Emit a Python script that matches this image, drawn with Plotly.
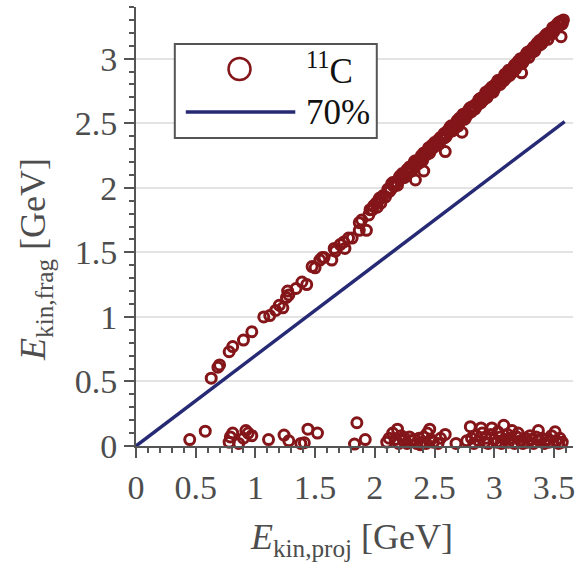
import plotly.graph_objects as go

# Fragment vs. projectile kinetic energy (GeV) for 11C
# Points following the main correlation band
proj_band = [
    0.63, 0.686, 0.70, 0.78, 0.81, 0.90, 0.97,
    1.07, 1.12, 1.17, 1.20, 1.23, 1.26, 1.27, 1.28, 1.34, 1.39, 1.43,
    1.475, 1.50, 1.54, 1.56, 1.575, 1.64, 1.66, 1.67, 1.71, 1.74, 1.75, 1.78, 1.81,
    1.87, 1.87, 1.89, 1.93, 1.95, 1.98, 2.02, 2.03, 2.05, 2.09,
    2.11, 2.13, 2.14, 2.16, 2.17, 2.19, 2.20, 2.22, 2.23, 2.25, 2.26, 2.28,
    2.29, 2.31, 2.32, 2.33, 2.35, 2.36, 2.38, 2.39, 2.40, 2.42, 2.43, 2.45,
    2.46, 2.47, 2.49, 2.50, 2.52, 2.53, 2.54, 2.56, 2.57, 2.58, 2.60, 2.61,
    2.62, 2.64, 2.65, 2.66, 2.68, 2.69, 2.70, 2.72, 2.73, 2.74, 2.76, 2.77,
    2.78, 2.80, 2.81, 2.82, 2.84, 2.85, 2.86, 2.88, 2.89, 2.90, 2.92, 2.93,
    2.94, 2.95, 2.97, 2.98, 2.99, 3.01, 3.02, 3.03, 3.05, 3.06, 3.07, 3.09,
    3.10, 3.11, 3.13, 3.14, 3.15, 3.17, 3.18, 3.19, 3.21, 3.22, 3.23, 3.25,
    3.26, 3.27, 3.29, 3.30, 3.31, 3.33, 3.34, 3.35, 3.37, 3.38, 3.39, 3.41,
    3.42, 3.43, 3.45, 3.46, 3.47, 3.49, 3.50, 3.51, 3.52, 3.54, 3.55, 3.56,
    3.57, 3.58,
    2.34, 2.41, 2.59, 2.73, 3.23, 3.56,
    1.96, 1.99, 2.01, 2.04, 2.07,
    2.12, 2.15, 2.18, 2.21, 2.24, 2.27, 2.30, 2.34, 2.37, 2.41, 2.44, 2.48,
    2.51, 2.55, 2.59, 2.63, 2.67, 2.71, 2.75, 2.79, 2.83, 2.87, 2.91, 2.96,
    3.00, 3.04, 3.08, 3.12, 3.16, 3.20, 3.24, 3.28, 3.32, 3.36, 3.40, 3.44,
    3.48, 3.53, 3.57,
]
frag_band = [
    0.525, 0.61, 0.628, 0.73, 0.77, 0.82, 0.885,
    1.00, 1.01, 1.05, 1.09, 1.07, 1.15, 1.20, 1.17, 1.22, 1.27, 1.25,
    1.39, 1.38, 1.44, 1.46, 1.46, 1.44, 1.53, 1.51, 1.56, 1.58, 1.53, 1.61, 1.61,
    1.73, 1.67, 1.75, 1.67, 1.79, 1.83, 1.85, 1.90, 1.88, 1.93,
    1.99, 1.98, 2.03, 2.01, 2.04, 2.02, 2.07, 2.07, 2.11, 2.08, 2.12, 2.12,
    2.16, 2.13, 2.17, 2.20, 2.18, 2.21, 2.21, 2.25, 2.21, 2.27, 2.26, 2.31,
    2.27, 2.31, 2.31, 2.35, 2.33, 2.37, 2.34, 2.39, 2.38, 2.42, 2.40, 2.44,
    2.43, 2.48, 2.44, 2.48, 2.48, 2.52, 2.48, 2.54, 2.53, 2.57, 2.54, 2.58,
    2.57, 2.62, 2.59, 2.63, 2.61, 2.65, 2.64, 2.69, 2.66, 2.70, 2.70, 2.74,
    2.70, 2.74, 2.74, 2.78, 2.74, 2.80, 2.79, 2.83, 2.80, 2.84, 2.83, 2.88,
    2.85, 2.89, 2.87, 2.91, 2.90, 2.95, 2.92, 2.96, 2.96, 3.00, 2.96, 3.01,
    3.00, 3.04, 3.01, 3.06, 3.05, 3.09, 3.06, 3.10, 3.10, 3.14, 3.11, 3.16,
    3.15, 3.18, 3.15, 3.20, 3.19, 3.24, 3.21, 3.25, 3.24, 3.28, 3.26, 3.29,
    3.28, 3.30,
    2.06, 2.13, 2.28, 2.43, 2.89, 3.17,
    1.83, 1.86, 1.88, 1.92, 1.94,
    1.97, 2.04, 2.04, 2.09, 2.08, 2.14, 2.14, 2.21, 2.19, 2.27, 2.26, 2.33,
    2.33, 2.39, 2.39, 2.47, 2.46, 2.54, 2.53, 2.61, 2.61, 2.68, 2.68, 2.76,
    2.76, 2.83, 2.83, 2.91, 2.90, 2.98, 2.97, 3.05, 3.05, 3.12, 3.12, 3.19,
    3.19, 3.27, 3.27,
]

# Points with almost no fragment energy
proj_low = [
    0.45, 0.58, 0.78, 0.79, 0.81, 0.86, 0.90, 0.92, 0.94, 0.97,
    1.11, 1.24, 1.28, 1.38, 1.41, 1.44, 1.52, 1.83, 1.85, 1.92,
    2.10, 2.12, 2.15, 2.17, 2.19, 2.20, 2.22, 2.24, 2.25, 2.27,
    2.29, 2.31, 2.33, 2.35, 2.37, 2.38, 2.40, 2.41, 2.43, 2.44,
    2.46, 2.47, 2.49, 2.53, 2.55, 2.59, 2.68,
    2.77, 2.80, 2.81, 2.83, 2.85, 2.87, 2.89, 2.90, 2.92, 2.93,
    2.95, 2.97, 2.98, 3.00, 3.02, 3.03, 3.05, 3.06, 3.08, 3.09,
    3.11, 3.12, 3.14, 3.15, 3.17, 3.19, 3.20, 3.22, 3.24, 3.26,
    3.28, 3.30, 3.31, 3.33, 3.35, 3.37, 3.38, 3.40, 3.42, 3.44,
    3.46, 3.48, 3.51, 3.52, 3.54, 3.55, 3.57,
]
frag_low = [
    0.05, 0.115, 0.03, 0.07, 0.10, 0.02, 0.06, 0.12, 0.10, 0.08,
    0.05, 0.085, 0.04, 0.02, 0.025, 0.13, 0.10, 0.015, 0.18, 0.05,
    0.03, 0.06, 0.10, 0.05, 0.13, 0.02, 0.08, 0.04, 0.06, 0.02,
    0.07, 0.04, 0.05, 0.02, 0.06, 0.01, 0.03, 0.07, 0.02, 0.10,
    0.13, 0.05, 0.03, 0.02, 0.06, 0.09, 0.02,
    0.04, 0.15, 0.06, 0.02, 0.08, 0.04, 0.14, 0.10, 0.03, 0.06,
    0.02, 0.09, 0.14, 0.05, 0.03, 0.11, 0.07, 0.02, 0.16, 0.05,
    0.09, 0.03, 0.06, 0.12, 0.02, 0.07, 0.10, 0.04, 0.02, 0.06,
    0.03, 0.08, 0.05, 0.02, 0.07, 0.12, 0.04, 0.06, 0.02, 0.05,
    0.03, 0.08, 0.11, 0.04, 0.02, 0.06, 0.03,
]

# Reference line: fragment keeps 70% of the projectile energy
ratio_fraction = 0.70
ratio_proj = [0.0, 3.59]
ratio_frag = [ratio_fraction * v for v in ratio_proj]

tick_vals = [0, 0.5, 1, 1.5, 2, 2.5, 3, 3.5]
x_tick_text = ["0", "0.5", "1", "1.5", "2", "2.5", "3", "3.5"]
y_tick_vals = [0, 0.5, 1, 1.5, 2, 2.5, 3]
y_tick_text = ["0", "0.5", "1", "1.5", "2", "2.5", "3"]

legend_labels = ["<sup>11</sup>C", "70%"]

RED = "#84161a"
NAVY = "#262a74"
AXIS = "#555555"
TICKTXT = "#4d4d4d"
SERIF = "Liberation Serif"

fig = go.Figure()
fig.add_trace(go.Scatter(
    x=ratio_proj, y=ratio_frag, mode="lines",
    line=dict(color=NAVY, width=3.5), hoverinfo="skip",
))
fig.add_trace(go.Scatter(
    x=proj_band + proj_low, y=frag_band + frag_low, mode="markers",
    marker=dict(symbol="circle-open", size=10, color=RED,
                line=dict(width=3, color=RED)),
    cliponaxis=False,
))

axis_common = dict(
    showline=True, linecolor=AXIS, linewidth=2,
    ticks="outside", ticklen=10, tickwidth=2, tickcolor=AXIS,
    tickfont=dict(family=SERIF, size=34, color=TICKTXT),
    zeroline=False,
    minor=dict(tickmode="linear", tick0=0, dtick=0.1, ticks="outside",
               ticklen=5, tickwidth=1.5, tickcolor=AXIS, showgrid=False),
)

fig.update_layout(
    width=580, height=562,
    margin=dict(l=136, r=5, t=7, b=116),
    paper_bgcolor="white", plot_bgcolor="white",
    showlegend=False,
    xaxis=dict(range=[0, 3.66], tickmode="array", tickvals=tick_vals,
               ticktext=x_tick_text, showgrid=False, **axis_common),
    yaxis=dict(range=[0, 3.4], tickmode="array", tickvals=y_tick_vals,
               ticktext=y_tick_text, showgrid=True, gridcolor="#e3e3e3",
               gridwidth=1.5, **axis_common),
)

# Legend box, drawn by hand so the line sample can be long
lx0, lx1, ly0, ly1 = 0.0888, 0.551, 0.7016, 0.9157
row1_y, row2_y = 0.8588, 0.7608
fig.add_shape(type="rect", xref="paper", yref="paper",
              x0=lx0, x1=lx1, y0=ly0, y1=ly1,
              line=dict(color=AXIS, width=2), fillcolor="white", layer="above")
fig.add_shape(type="circle", xref="paper", yref="paper",
              xsizemode="pixel", ysizemode="pixel",
              xanchor=0.2369, yanchor=row1_y, x0=-11, x1=11, y0=-11, y1=11,
              line=dict(color=RED, width=2.5), layer="above")
fig.add_shape(type="line", xref="paper", yref="paper",
              x0=0.1139, x1=0.3645, y0=row2_y, y1=row2_y,
              line=dict(color=NAVY, width=3.5), layer="above")
for label, yy in zip(legend_labels, [row1_y, row2_y]):
    fig.add_annotation(text=label, xref="paper", yref="paper",
                       x=0.385, y=yy, xanchor="left", yanchor="middle",
                       showarrow=False,
                       font=dict(family=SERIF, size=35, color="#111111"))

# Axis titles
fig.add_annotation(text="<i>E</i><sub>kin,proj</sub> [GeV]",
                   xref="paper", yref="paper", x=0.492, y=-0.212,
                   xanchor="center", yanchor="middle", showarrow=False,
                   font=dict(family=SERIF, size=36, color=TICKTXT))
fig.add_annotation(text="<i>E</i><sub>kin,frag</sub> [GeV]",
                   xref="paper", yref="paper", x=-0.23, y=0.425,
                   xanchor="center", yanchor="middle", showarrow=False,
                   textangle=-90,
                   font=dict(family=SERIF, size=36, color=TICKTXT))

fig.write_html("out.html")
